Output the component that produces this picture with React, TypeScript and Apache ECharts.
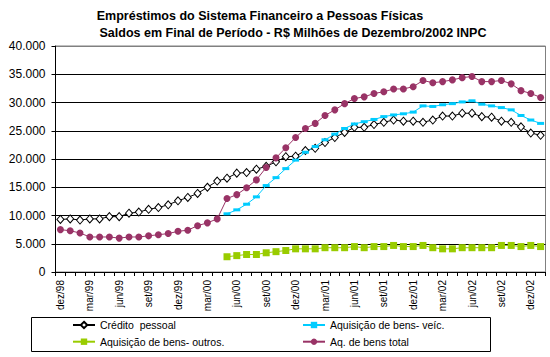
import React, { useEffect, useRef } from "react";
import * as echarts from "echarts";

const titleLine1 = "Empréstimos do Sistema Financeiro a Pessoas Físicas";
const titleLine2 = "Saldos em Final de Período - R$ Milhões de Dezembro/2002 INPC";

const categories = [
  "dez/98", "jan/99", "fev/99", "mar/99", "abr/99", "mai/99", "jun/99", "jul/99", "ago/99", "set/99", "out/99", "nov/99",
  "dez/99", "jan/00", "fev/00", "mar/00", "abr/00", "mai/00", "jun/00", "jul/00", "ago/00", "set/00", "out/00", "nov/00",
  "dez/00", "jan/01", "fev/01", "mar/01", "abr/01", "mai/01", "jun/01", "jul/01", "ago/01", "set/01", "out/01", "nov/01",
  "dez/01", "jan/02", "fev/02", "mar/02", "abr/02", "mai/02", "jun/02", "jul/02", "ago/02", "set/02", "out/02", "nov/02",
  "dez/02", "jan/03",
];

const creditoPessoal = [
  9300, 9400, 9200, 9400, 9400, 9800, 9800, 10400, 10600, 11100, 11400, 11900,
  12600, 13200, 13900, 15000, 16100, 16600, 17500, 17600, 18200, 18700, 19500, 20400,
  20500, 21500, 21900, 22900, 23800, 24700, 25600, 25600, 26100, 26500, 26900, 26700,
  26700, 26500, 26900, 27600, 27600, 28100, 28100, 27500, 27400, 26700, 26500, 25700,
  24600, 24200,
];

const aquisicaoVeic = [
  null, null, null, null, null, null, null, null, null, null, null, null,
  null, null, null, null, null, 10300, 11000, 12000, 13300, 15300, 16700, 18300,
  19800, 21200, 22200, 23400, 24400, 25400, 26200, 26600, 27000, 27500, 27800, 28000,
  28300, 29400, 29300, 29600, 29800, 30100, 30300, 29700, 29400, 29100, 28700, 27700,
  26900, 26300,
];

const aquisicaoOutros = [
  null, null, null, null, null, null, null, null, null, null, null, null,
  null, null, null, null, null, 2700, 2900, 3100, 3100, 3400, 3600, 3800,
  4100, 4100, 4100, 4300, 4300, 4300, 4500, 4300, 4500, 4500, 4700, 4500,
  4500, 4700, 4300, 4100, 4100, 4300, 4300, 4300, 4300, 4700, 4700, 4500,
  4700, 4500,
];

const aqBensTotal = [
  7500, 7300, 6900, 6200, 6200, 6200, 6000, 6200, 6200, 6400, 6600, 6800,
  7200, 7400, 8200, 8700, 9400, 13000, 13700, 14900, 16300, 18500, 20200, 22000,
  23800, 25400, 26300, 27700, 28700, 29800, 30700, 31000, 31600, 31900, 32400, 32400,
  32800, 33900, 33500, 33700, 34000, 34400, 34600, 33700, 33700, 33900, 33300, 32100,
  31600, 30900,
];

const seriesNames = [
  "Crédito  pessoal",
  "Aquisição de bens- veíc.",
  "Aquisição de bens- outros.",
  "Aq. de bens total",
];

const FONT = "'Liberation Sans', Arial, sans-serif";

function fmt(v: number): string {
  return String(Math.round(v)).replace(/\B(?=(\d{3})+(?!\d))/g, ".");
}

export default function App() {
  const ref = useRef<HTMLDivElement>(null);
  useEffect(() => {
    if (!ref.current) return;
    const chart = echarts.init(ref.current, null, { renderer: "svg" });
    const legendCommon = {
      orient: "vertical",
      top: 319,
      padding: 0,
      itemWidth: 22,
      itemHeight: 8,
      itemGap: 4.7,
      selectedMode: false,
      textStyle: { fontFamily: FONT, fontSize: 10.5, color: "#000", lineHeight: 12 },
    };
    chart.setOption({
      animation: false,
      backgroundColor: "#fff",
      graphic: [
        {
          type: "text",
          style: { text: titleLine1, x: 260, y: 16, textAlign: "center", textVerticalAlign: "middle", font: `bold 12.5px ${FONT}`, fill: "#000" },
        },
        {
          type: "text",
          style: { text: titleLine2, x: 293, y: 33, textAlign: "center", textVerticalAlign: "middle", font: `bold 12.5px ${FONT}`, fill: "#000" },
        },
        {
          type: "rect",
          shape: { x: 31.5, y: 317.5, width: 459, height: 34 },
          style: { fill: "none", stroke: "#000", lineWidth: 1 },
          z: 0,
        },
      ],
      legend: [
        { ...legendCommon, left: 72, data: [seriesNames[0], seriesNames[2]] },
        { ...legendCommon, left: 302, data: [seriesNames[1], seriesNames[3]] },
      ],
      grid: {
        left: 55.5,
        top: 46,
        width: 490,
        height: 226,
        show: true,
        borderColor: "#808080",
        borderWidth: 1,
        backgroundColor: "transparent",
        containLabel: false,
      },
      xAxis: {
        type: "category",
        data: categories,
        boundaryGap: true,
        axisLine: { show: true, lineStyle: { color: "#000", width: 1 } },
        axisTick: { show: true, interval: 0, length: 4, lineStyle: { color: "#000" } },
        axisLabel: {
          interval: 2,
          rotate: 90,
          margin: 8,
          fontFamily: FONT,
          fontSize: 10,
          color: "#000",
        },
        splitLine: { show: false },
      },
      yAxis: {
        type: "value",
        min: 0,
        max: 40000,
        interval: 5000,
        axisLine: { show: true, lineStyle: { color: "#000", width: 1 } },
        axisTick: { show: true, length: 4, lineStyle: { color: "#000" } },
        axisLabel: {
          margin: 10,
          fontFamily: FONT,
          fontSize: 12,
          color: "#000",
          formatter: (v: number) => fmt(v),
        },
        splitLine: {
          show: true,
          lineStyle: {
            color: ["#000", "#000", "#000", "#000", "#000", "#000", "#000", "#000", "#808080"],
            width: 1,
          },
        },
      },
      series: [
        {
          name: seriesNames[0],
          type: "line",
          data: creditoPessoal,
          symbol: "diamond",
          symbolSize: [7, 8],
          lineStyle: { color: "#000", width: 1 },
          itemStyle: { color: "#fff", borderColor: "#000", borderWidth: 1 },
          showAllSymbol: true,
        },
        {
          name: seriesNames[1],
          type: "line",
          data: aquisicaoVeic,
          symbol: "rect",
          symbolSize: [7, 3],
          lineStyle: { color: "#00CCFF", width: 1 },
          itemStyle: { color: "#00CCFF", borderWidth: 0 },
          showAllSymbol: true,
        },
        {
          name: seriesNames[2],
          type: "line",
          data: aquisicaoOutros,
          symbol: "rect",
          symbolSize: 7,
          lineStyle: { color: "#99CC00", width: 1 },
          itemStyle: { color: "#99CC00", borderWidth: 0 },
          showAllSymbol: true,
        },
        {
          name: seriesNames[3],
          type: "line",
          data: aqBensTotal,
          symbol: "circle",
          symbolSize: 7,
          lineStyle: { color: "#993366", width: 1 },
          itemStyle: { color: "#993366", borderWidth: 0 },
          showAllSymbol: true,
        },
      ],
    });
    return () => chart.dispose();
  }, []);
  return (
    <div
      ref={ref}
      style={{ position: "fixed", left: 0, top: 0, width: 550, height: 357, background: "#fff" }}
    />
  );
}
